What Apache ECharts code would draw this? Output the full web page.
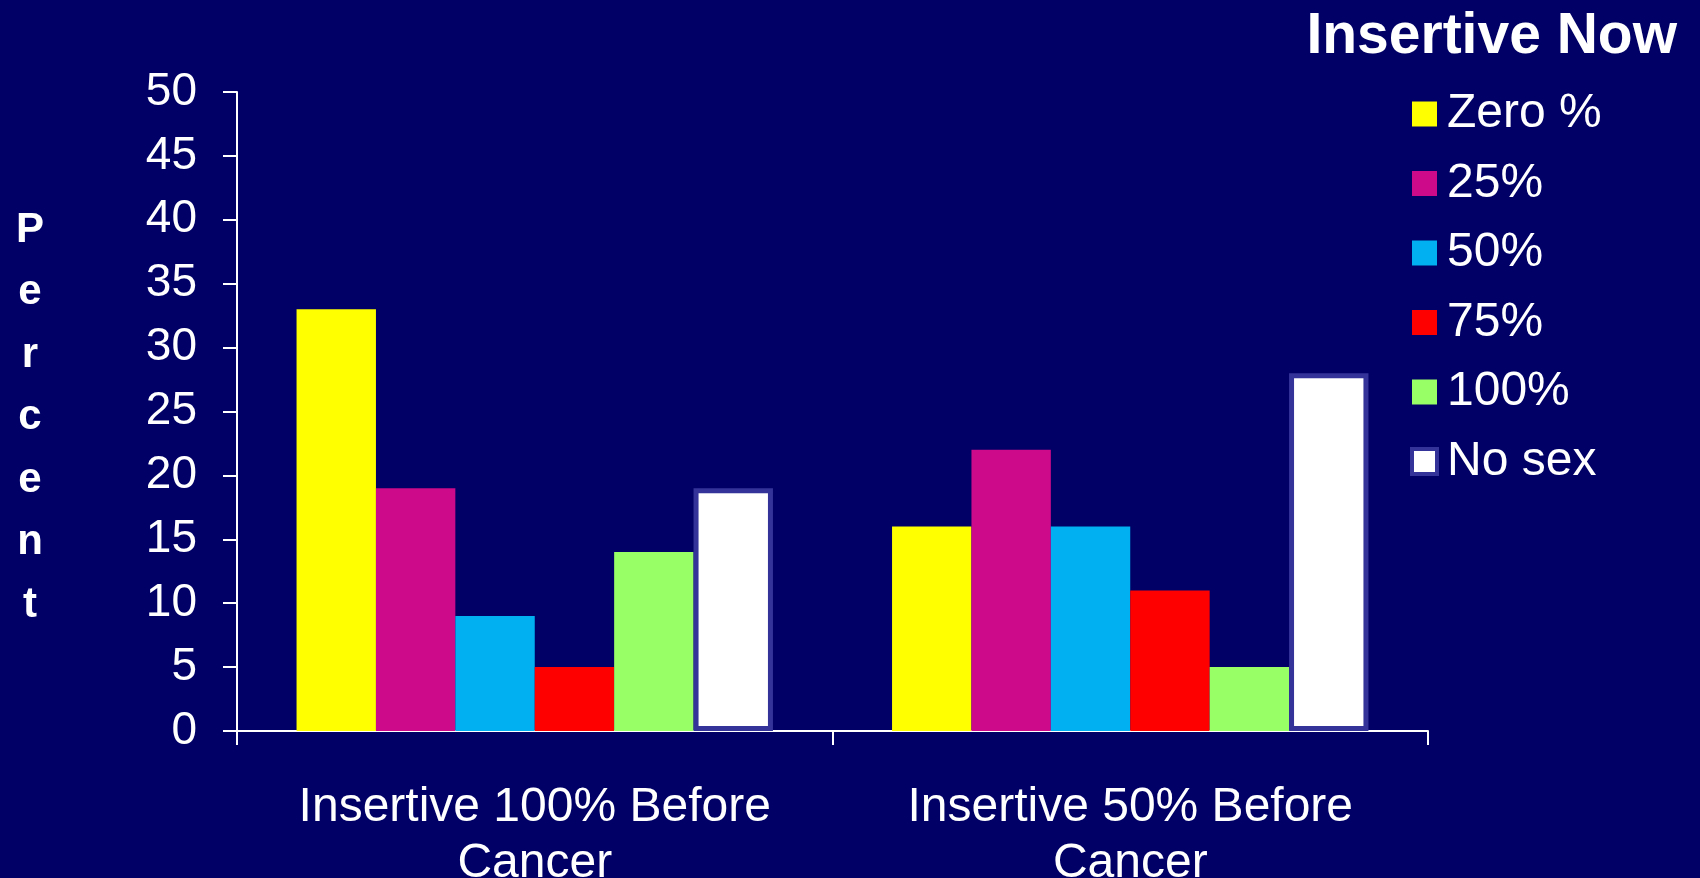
<!DOCTYPE html>
<html>
<head>
<meta charset="utf-8">
<script src="https://cdn.jsdelivr.net/npm/echarts@6/dist/echarts.min.js"></script>
<style>
  html, body { margin: 0; padding: 0; background: #000066; }
  #main { width: 1700px; height: 878px; }
</style>
</head>
<body>
<div id="main"></div>
<script>
// groups on the x axis
var categories = ['Insertive 100% Before\nCancer', 'Insertive 50% Before\nCancer'];
// "Insertive Now" series
var seriesNames = ['Zero %', '25%', '50%', '75%', '100%', 'No sex'];
var seriesColors = ['#FFFF00', '#CC0A8A', '#00B0F0', '#FF0000', '#99FF66', '#FFFFFF'];
var zeroPct = [33, 16];
var pct25 = [19, 22];
var pct50 = [9, 16];
var pct75 = [5, 11];
var pct100 = [14, 5];
var noSex = [19, 28];
var yTicks = [0, 50, 5]; // min, max, interval
var yName = 'Percent';

var fontFam = '"Liberation Sans", Arial, sans-serif';
var allValues = [zeroPct, pct25, pct50, pct75, pct100, noSex];

var chart = echarts.init(document.getElementById('main'));

var series = [];
for (var i = 0; i < seriesNames.length; i++) {
  var s = {
    name: seriesNames[i],
    type: 'bar',
    data: allValues[i],
    barGap: '0%',
    barCategoryGap: '20%',
    itemStyle: { color: seriesColors[i] }
  };
  // white bar has the blue outline
  if (seriesNames[i] == 'No sex') {
    s.itemStyle.borderColor = '#333399';
    s.itemStyle.borderWidth = 5;
  }
  series.push(s);
}

var legendData = seriesNames.map(function (n) {
  if (n == 'No sex') {
    return { name: n, itemStyle: { borderColor: '#333399', borderWidth: 4 } };
  }
  return { name: n };
});

var option = {
  backgroundColor: '#000066',
  animation: false,
  title: [{
    text: 'Insertive Now',
    right: 18,
    top: 4,
    textStyle: { color: '#fff', fontSize: 57, fontWeight: 'bold', fontFamily: fontFam }
  }, {
    // vertical "Percent", one letter per line
    text: yName.split('').join('\n'),
    left: 25,
    top: 194,
    textAlign: 'center',
    textStyle: { color: '#fff', fontSize: 42, fontWeight: 'bold', lineHeight: 62.5, fontFamily: fontFam }
  }],
  legend: {
    orient: 'vertical',
    left: 1410,
    top: 90,
    padding: 0,
    itemWidth: 25,
    itemHeight: 25,
    itemGap: 21.5,
    icon: 'rect',
    data: legendData,
    textStyle: { color: '#fff', fontSize: 48, fontFamily: fontFam, padding: [0, 0, 0, 5] }
  },
  grid: {
    left: 237,
    right: 272,
    top: 92,
    bottom: 147,
    containLabel: false,
    outerBoundsMode: 'none'
  },
  xAxis: {
    type: 'category',
    data: categories,
    axisLine: { lineStyle: { color: '#fff', width: 2 } },
    axisTick: { show: true, length: 14, lineStyle: { color: '#fff', width: 2 } },
    axisLabel: {
      interval: 0,
      color: '#fff',
      fontSize: 48,
      lineHeight: 56,
      margin: 49,
      fontFamily: fontFam
    }
  },
  yAxis: {
    type: 'value',
    min: yTicks[0],
    max: yTicks[1],
    interval: yTicks[2],
    axisLine: { show: true, lineStyle: { color: '#fff', width: 2 } },
    axisTick: { show: true, length: 14, lineStyle: { color: '#fff', width: 2 } },
    splitLine: { show: false },
    axisLabel: { color: '#fff', fontSize: 46, margin: 40, fontFamily: fontFam }
  },
  series: series
};

chart.setOption(option);
</script>
</body>
</html>
